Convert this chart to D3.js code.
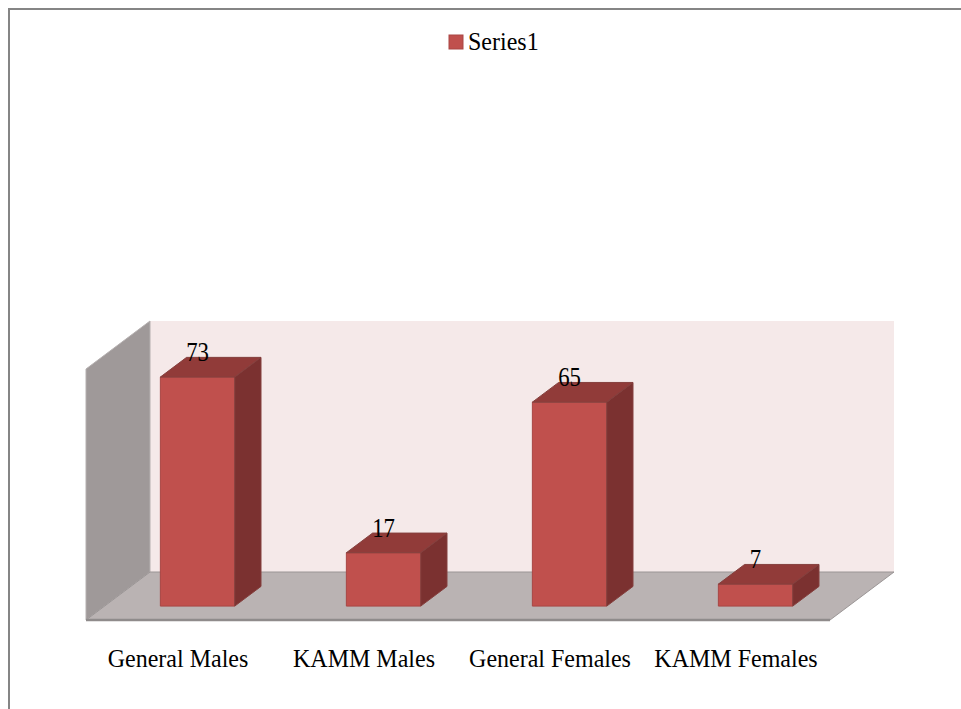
<!DOCTYPE html>
<html>
<head>
<meta charset="utf-8">
<script src="https://cdn.jsdelivr.net/npm/d3@7"></script>
<style>
  body { margin: 0; background: white; }
</style>
</head>
<body>
<svg id="chart" width="961" height="709"></svg>
<script>
const categories = ["General Males", "KAMM Males", "General Females", "KAMM Females"]
const values = [73, 17, 65, 7]
const seriesName = "Series1"
const valueMax = 80

const fontFamily = "'Liberation Serif'"

const svg = d3.select("#chart")

// frame
svg.append("rect")
   .attr("x", 9).attr("y", 9)
   .attr("width", 1000).attr("height", 1000)
   .attr("fill", "none")
   .attr("stroke", "#858585")
   .attr("stroke-width", 2)

// plot origin is the front-left corner of the floor
const origin = {x: 86, y: 620},
      plotWidth = 744,
      depth = {dx: 64, dy: 48}

const x = d3.scaleBand()
            .domain(categories)
            .range([0, plotWidth])
            .paddingInner(0.6)
            .paddingOuter(0.3)

const y = d3.scaleLinear()
            .domain([0, valueMax])
            .range([0, 251])

const z = d3.scaleLinear()
            .domain([0, 1])
            .range([0, 1])

function project(xv, v, zv) {
    const d = z(zv)
    return [origin.x + xv + d * depth.dx, origin.y - y(v) - d * depth.dy]
}

function poly(points, fill, stroke) {
    svg.append("polygon")
       .attr("points", points.map(p => p.join(",")).join(" "))
       .attr("fill", fill)
       .attr("stroke", stroke || "none")
       .attr("stroke-width", 1)
       .attr("stroke-linejoin", "round")
}

// back wall, side wall, floor
poly([project(0, 0, 1), project(plotWidth, 0, 1), project(plotWidth, valueMax, 1), project(0, valueMax, 1)], "#f5e9e9")
poly([project(0, 0, 0), project(0, 0, 1), project(0, valueMax, 1), project(0, valueMax, 0)], "#9f9999", "#b5b0b0")
poly([project(0, 0, 0), project(plotWidth, 0, 0), project(plotWidth, 0, 1), project(0, 0, 1)], "#bab3b3", "#9a9595")

const floorFront = [project(0, 0, 0), project(plotWidth, 0, 0)]
svg.append("line")
   .attr("x1", floorFront[0][0]).attr("y1", floorFront[0][1])
   .attr("x2", floorFront[1][0]).attr("y2", floorFront[1][1])
   .attr("stroke", "#8f8b8b")
   .attr("stroke-width", 2.5)

// bars
const zFront = 0.29, zBack = 0.70

categories.forEach((c, i) => {
    const x0 = x(c), x1 = x(c) + x.bandwidth(), v = values[i]
    poly([project(x0, 0, zFront), project(x1, 0, zFront), project(x1, v, zFront), project(x0, v, zFront)], "#c0504d", "#a94644")
    poly([project(x0, v, zFront), project(x1, v, zFront), project(x1, v, zBack), project(x0, v, zBack)], "#913b39", "#85403e")
    poly([project(x1, 0, zFront), project(x1, 0, zBack), project(x1, v, zBack), project(x1, v, zFront)], "#7b3130", "#85403e")
})

// value labels, drawn after all bars (text in the reference is a bit tall and narrow)
svg.selectAll(".value")
   .data(values)
   .join("text")
   .attr("class", "value")
   .attr("transform", (d, i) => {
       const p = project(x(categories[i]) + x.bandwidth() / 2, d, zFront)
       return "translate(" + p[0] + "," + (p[1] - 16) + ") scale(0.95,1.15)"
   })
   .attr("text-anchor", "middle")
   .attr("font-size", 24)
   .style("font-family", fontFamily)
   .text(d => d)

// category labels
svg.selectAll(".cat")
   .data(categories)
   .join("text")
   .attr("class", "cat")
   .attr("transform", d => "translate(" + (project(x(d) + x.bandwidth() / 2, 0, 0)[0] - 1) + ",667) scale(1,1.07)")
   .attr("text-anchor", "middle")
   .attr("font-size", 24)
   .style("font-family", fontFamily)
   .text(d => d)

// legend
svg.append("rect")
   .attr("x", 449).attr("y", 35)
   .attr("width", 14).attr("height", 14)
   .attr("fill", "#c0504d")
   .attr("stroke", "#a94644")
svg.append("text")
   .attr("transform", "translate(468,50) scale(1,1.07)")
   .attr("font-size", 24)
   .style("font-family", fontFamily)
   .text(seriesName)
</script>
</body>
</html>
